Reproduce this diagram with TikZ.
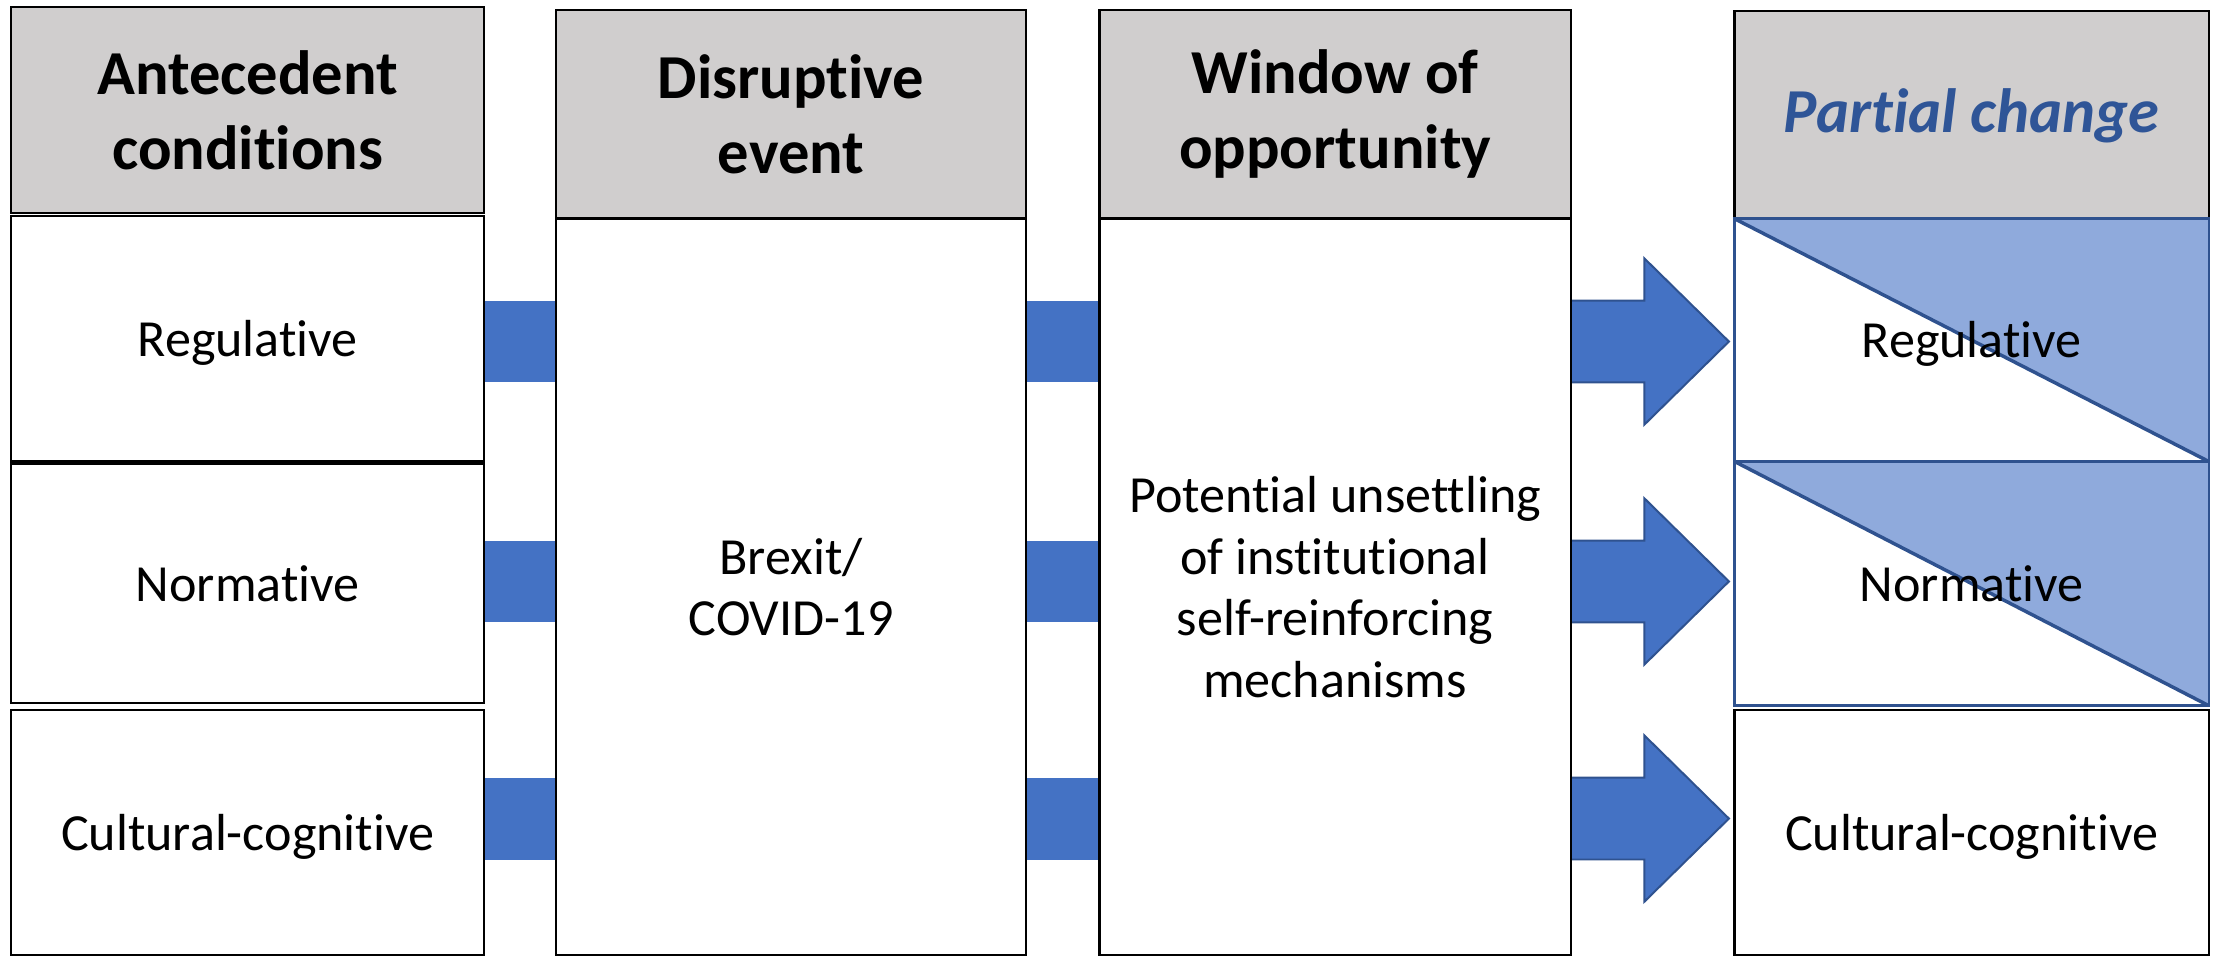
\documentclass[tikz,border=0pt]{standalone}
\usepackage{fontspec}
\setmainfont{Carlito}[RawFeature={-liga;-clig;-calt;-dlig;-rlig;-ccmp}]
\usetikzlibrary{calc}
\definecolor{hdrgray}{HTML}{D0CECE}
\definecolor{barblue}{HTML}{4472C4}
\definecolor{edgeblue}{HTML}{2F528F}
\definecolor{lightblue}{HTML}{8FAADC}
\definecolor{titleblue}{HTML}{2F5597}
\begin{document}
\begin{tikzpicture}[x=0.01cm, y=-0.01cm,
  box/.style={draw=black, line width=0.5pt, fill=white, inner sep=0pt,
    align=center, font=\fontsize{10.5}{12.4}\selectfont},
  oneline/.style={text height=0.92em, text depth=0.2em},
  hdr/.style={box, fill=hdrgray, font=\fontsize{12.6}{15.1}\selectfont\bfseries},
  halfbox/.style={box, draw=edgeblue,
    path picture={
      \fill[lightblue] (path picture bounding box.north west) --
        (path picture bounding box.north east) --
        (path picture bounding box.south east) -- cycle;
      \draw[edgeblue, line width=0.7pt] (path picture bounding box.north west) --
        (path picture bounding box.south east);}},
  bar/.style={draw=barblue, line width=0.58cm},
  fatarrow/.style={fill=barblue, draw=edgeblue, line width=0.4pt, line join=miter}]
\useasboundingbox (0,0) rectangle (1568,677);

% rows of the connectors
\coordinate (r1) at (0,242);
\coordinate (r2) at (0,412);
\coordinate (r3) at (0,580);

% column 1: antecedent conditions
\node[hdr, minimum width=3.35cm, minimum height=1.46cm] (h1) at (175.5,78) {Antecedent\\conditions};
\node[box, oneline, minimum width=3.35cm, minimum height=1.74cm] (c1r) at (175.5,240) {Regulative};
\node[box, oneline, minimum width=3.35cm, minimum height=1.69cm] (c1n) at (175.5,413.5) {Normative};
\node[box, oneline, minimum width=3.35cm, minimum height=1.74cm] (c1c) at (175.5,590) {Cultural-cognitive};

% column 2: disruptive event
\node[hdr, minimum width=3.33cm, minimum height=1.48cm] (h2) at (560.5,81) {Disruptive\\event};
\node[box, minimum width=3.33cm, minimum height=5.22cm] (c2b) at (560.5,416) {Brexit/\\COVID-19};

% column 3: window of opportunity
\node[hdr, minimum width=3.34cm, minimum height=1.48cm] (h3) at (946,81) {Window of\\opportunity};
\node[box, minimum width=3.34cm, minimum height=5.22cm] (c3b) at (946,416)
  {Potential unsettling\\of institutional\\self-reinforcing\\mechanisms};

% column 4: partial change
\node[hdr, oneline, minimum width=3.36cm, minimum height=1.47cm, text=titleblue,
  font=\fontsize{12.6}{15.1}\selectfont\bfseries\itshape] (h4) at (1397,81.5) {Partial change};
\node[halfbox, oneline, minimum width=3.36cm, minimum height=1.72cm] (c4r) at (1397,241) {Regulative};
\node[halfbox, oneline, minimum width=3.36cm, minimum height=1.73cm] (c4n) at (1397,413.5) {Normative};
\node[box, oneline, minimum width=3.36cm, minimum height=1.74cm] (c4c) at (1397,590) {Cultural-cognitive};

% connectors between columns 1, 2 and 3
\draw[bar] (c1r.east |- r1) -- (c2b.west |- r1);
\draw[bar] (c1n.east |- r2) -- (c2b.west |- r2);
\draw[bar] (c1c.east |- r3) -- (c2b.west |- r3);
\draw[bar] (c2b.east |- r1) -- (c3b.west |- r1);
\draw[bar] (c2b.east |- r2) -- (c3b.west |- r2);
\draw[bar] (c2b.east |- r3) -- (c3b.west |- r3);

% block arrows into column 4
\foreach \r/\t in {r1/c4r, r2/c4n, r3/c4c}{
  \filldraw[fatarrow] ($(c3b.east |- \r)+(0,-29)$) -- ($(\t.west |- \r)+(-63,-29)$)
    -- ($(\t.west |- \r)+(-63,-59)$) -- ($(\t.west |- \r)+(-3,0)$)
    -- ($(\t.west |- \r)+(-63,59)$) -- ($(\t.west |- \r)+(-63,29)$)
    -- ($(c3b.east |- \r)+(0,29)$);
}
\end{tikzpicture}
\end{document}
